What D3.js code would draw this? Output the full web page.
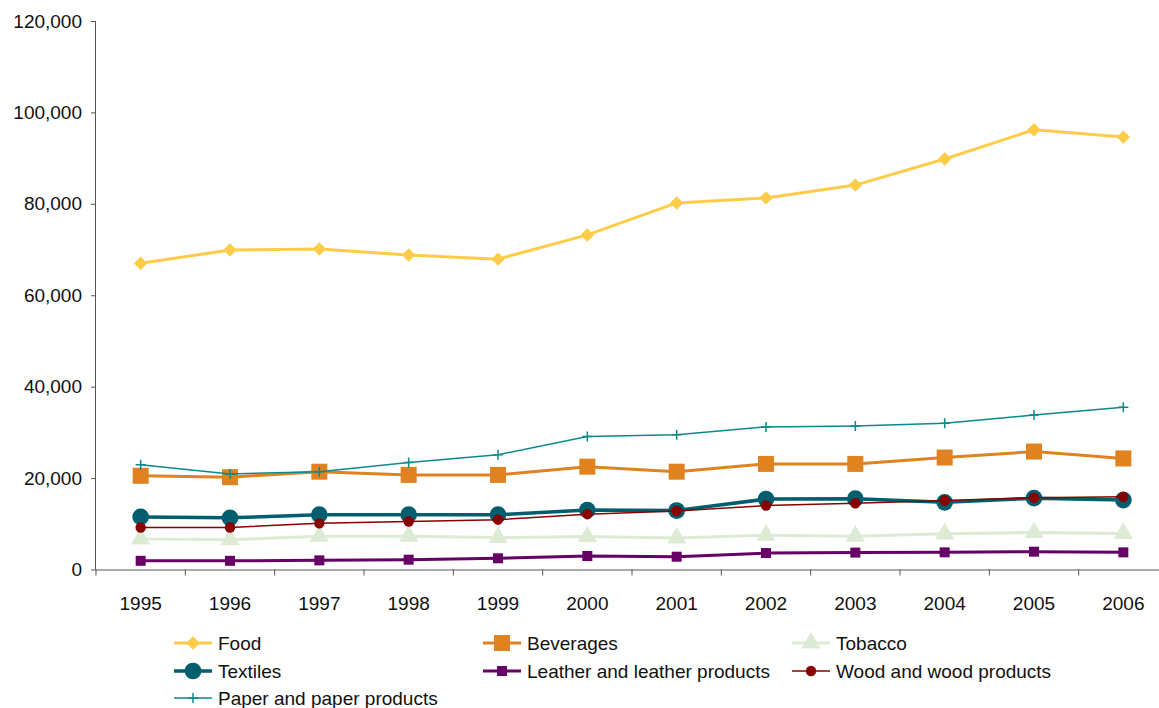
<!DOCTYPE html>
<html lang="en">
<head>
  <meta charset="UTF-8">
  <title>Output by industry, 1995-2006</title>
  <script src="https://d3js.org/d3.v7.min.js"></script>
  <style>
    html, body { margin: 0; padding: 0; background: #fff; }
    svg { display: block; font-family: "Liberation Sans", Arial, sans-serif; }
  </style>
</head>
<body>
<svg id="canvas" width="1159" height="708"></svg>
<script>
  // data
  let years = ["1995","1996","1997","1998","1999","2000","2001","2002","2003","2004","2005","2006"];
  let yTicks = [0, 20000, 40000, 60000, 80000, 100000, 120000];

  let food      = [67000, 69900, 70100, 68800, 67900, 73200, 80200, 81300, 84100, 89800, 96200, 94600];
  let beverages = [20500, 20200, 21400, 20700, 20700, 22500, 21400, 23100, 23100, 24500, 25800, 24300];
  let tobacco   = [6700, 6500, 7300, 7300, 7000, 7200, 6900, 7500, 7300, 7800, 8100, 7900];
  let textiles  = [11500, 11300, 12000, 12000, 12000, 13000, 12900, 15400, 15500, 14700, 15600, 15200];
  let leather   = [1900, 1900, 2000, 2150, 2450, 2950, 2800, 3600, 3700, 3750, 3900, 3750];
  let wood      = [9200, 9200, 10100, 10500, 10900, 12100, 12800, 14000, 14500, 15100, 15700, 15900];
  let paper     = [22900, 20900, 21400, 23400, 25100, 29100, 29500, 31200, 31400, 32000, 33800, 35500];

  let series = [
    {name: "Food", values: food, color: "#FFCC4A", width: 3, symbol: d3.symbolDiamond2, size: 115, legendRow: 0, legendCol: 0},
    {name: "Beverages", values: beverages, color: "#E0821F", width: 3, symbol: d3.symbolSquare, size: 256, legendRow: 0, legendCol: 1},
    {name: "Tobacco", values: tobacco, color: "#DDEBD5", width: 3, symbol: d3.symbolTriangle, size: 160, legendRow: 0, legendCol: 2},
    {name: "Textiles", values: textiles, color: "#005E6E", width: 3.5, symbol: d3.symbolCircle, size: 220, legendRow: 1, legendCol: 0},
    {name: "Leather and leather products", values: leather, color: "#660066", width: 3, symbol: d3.symbolSquare, size: 100, legendRow: 1, legendCol: 1},
    {name: "Wood and wood products", values: wood, color: "#880000", width: 1.5, symbol: d3.symbolCircle, size: 85, legendRow: 1, legendCol: 2},
    {name: "Paper and paper products", values: paper, color: "#0A8A8A", width: 1.5, symbol: d3.symbolCross, size: 0, legendRow: 2, legendCol: 0}
  ];

  let canvas = d3.select('#canvas');

  let x = d3.scaleBand().domain(years).range([96, 1168]);
  let y = d3.scaleLinear().domain([0, 120000]).range([569.5, 21]);

  // y axis
  let yAxis = canvas.append('g')
    .attr('transform', 'translate(96,0)')
    .call(d3.axisLeft(y).tickValues(yTicks).tickFormat(d3.format(',')).tickSize(5).tickPadding(9));
  yAxis.select('.domain').attr('stroke', '#555').attr('d', 'M-0.5,' + y(120000) + 'V' + y(0));
  yAxis.selectAll('.tick line').attr('stroke', '#555');
  yAxis.selectAll('text').attr('font-size', 19).attr('fill', '#111');

  // x axis, ticks between categories
  let xAxis = canvas.append('g')
    .attr('transform', 'translate(0,' + y(0) + ')')
    .call(d3.axisBottom(x).tickSize(0).tickPadding(27));
  xAxis.select('.domain').attr('stroke', '#555').attr('d', 'M96,0.5H1168');
  xAxis.selectAll('text').attr('font-size', 19).attr('fill', '#111');
  xAxis.selectAll('.sep')
    .data(years)
    .enter()
    .append('line')
    .attr('class', 'sep')
    .attr('x1', d => x(d)).attr('x2', d => x(d))
    .attr('y1', 0).attr('y2', 6)
    .attr('stroke', '#555');

  let cx = d => x(d) + x.bandwidth() / 2;

  let line = d3.line()
    .x((v, i) => cx(years[i]))
    .y(v => y(v));

  let drawMarker = (g, s, px, py) => {
    if (s.name.startsWith("Paper")) {
      g.append('path')
        .attr('d', 'M' + (px - 5) + ',' + py + 'H' + (px + 5) + 'M' + px + ',' + (py - 5) + 'V' + (py + 5))
        .attr('stroke', s.color).attr('stroke-width', 1.5).attr('fill', 'none');
    } else {
      g.append('path')
        .attr('d', d3.symbol().type(s.symbol).size(s.size)())
        .attr('transform', 'translate(' + px + ',' + py + ')')
        .attr('fill', s.color);
    }
  };

  series.forEach(s => {
    let g = canvas.append('g');
    g.append('path')
      .datum(s.values)
      .attr('d', line)
      .attr('fill', 'none')
      .attr('stroke', s.color)
      .attr('stroke-width', s.width)
      .attr('stroke-linejoin', 'round');
    s.values.forEach((v, i) => drawMarker(g, s, cx(years[i]), y(v)));
  });

  // legend
  let colX = [174, 483, 792];
  let rowY = [643, 671, 698];
  series.forEach(s => {
    let lx = colX[s.legendCol], ly = rowY[s.legendRow];
    let g = canvas.append('g');
    g.append('line')
      .attr('x1', lx).attr('x2', lx + 38)
      .attr('y1', ly).attr('y2', ly)
      .attr('stroke', s.color).attr('stroke-width', s.width);
    drawMarker(g, s, lx + 19, ly);
    g.append('text')
      .attr('x', lx + 44).attr('y', ly)
      .attr('dy', '0.35em')
      .attr('font-size', 19)
      .attr('fill', '#111')
      .text(s.name);
  });
</script>
</body>
</html>
